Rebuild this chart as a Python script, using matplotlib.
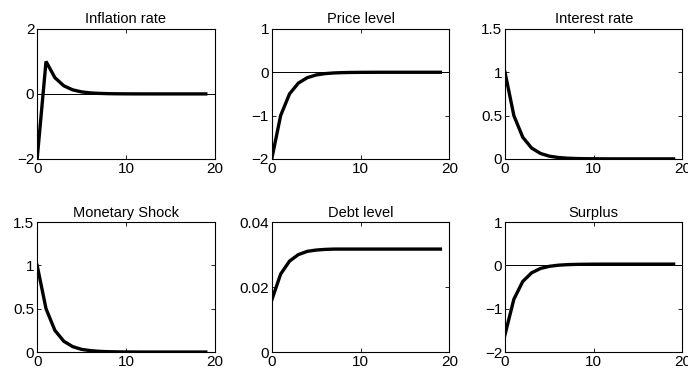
import matplotlib
matplotlib.use('Agg')
import matplotlib.pyplot as plt

plt.rcParams['font.family'] = ['Liberation Sans', 'DejaVu Sans']

periods = list(range(20))

inflation = [-2.0, 1.0, 0.5, 0.25, 0.125, 0.0625, 0.031, 0.016, 0.008, 0.004,
             0.002, 0.001, 0.0005, 0.0, 0.0, 0.0, 0.0, 0.0, 0.0, 0.0]
price = [-2.0, -1.0, -0.5, -0.25, -0.125, -0.0625, -0.031, -0.016, -0.008, -0.004,
         -0.002, -0.001, 0.0, 0.0, 0.0, 0.0, 0.0, 0.0, 0.0, 0.0]
interest = [1.0, 0.5, 0.25, 0.125, 0.0625, 0.031, 0.016, 0.008, 0.004, 0.002,
            0.001, 0.0005, 0.0, 0.0, 0.0, 0.0, 0.0, 0.0, 0.0, 0.0]
shock = [1.0, 0.5, 0.25, 0.125, 0.0625, 0.031, 0.016, 0.008, 0.004, 0.002,
         0.001, 0.0005, 0.0, 0.0, 0.0, 0.0, 0.0, 0.0, 0.0, 0.0]
debt = [0.016, 0.024, 0.028, 0.030, 0.031, 0.0314, 0.0316, 0.0317, 0.0317, 0.0317,
        0.0317, 0.0317, 0.0317, 0.0317, 0.0317, 0.0317, 0.0317, 0.0317, 0.0317, 0.0317]
surplus = [-1.6, -0.78, -0.37, -0.17, -0.07, -0.02, 0.005, 0.018, 0.024, 0.027,
           0.029, 0.03, 0.03, 0.03, 0.03, 0.03, 0.03, 0.03, 0.03, 0.03]

titles = ['Inflation rate', 'Price level', 'Interest rate',
          'Monetary Shock', 'Debt level', 'Surplus']
series = [inflation, price, interest, shock, debt, surplus]
ylims = [(-2, 2), (-2, 1), (0, 1.5), (0, 1.5), (0, 0.04), (-2, 1)]
yticks = [[-2, 0, 2], [-2, -1, 0, 1], [0, 0.5, 1, 1.5],
          [0, 0.5, 1, 1.5], [0, 0.02, 0.04], [-2, -1, 0, 1]]
yticklabels = [['\u22122', '0', '2'], ['\u22122', '\u22121', '0', '1'],
               ['0', '0.5', '1', '1.5'], ['0', '0.5', '1', '1.5'],
               ['0', '0.02', '0.04'], ['\u22122', '\u22121', '0', '1']]
zero_line = [True, True, False, False, False, True]

fig = plt.figure(figsize=(6.88, 3.81), dpi=100)

lefts = [0.054, 0.395, 0.734]
bottoms = [0.583, 0.076]
w, h = 0.258, 0.341

for i in range(6):
    r, c = divmod(i, 3)
    ax = fig.add_axes([lefts[c], bottoms[r], w, h])
    if zero_line[i]:
        ax.axhline(0, color='black', lw=0.7)
    ax.plot(periods, series[i], color='black', lw=2.4, solid_joinstyle='miter')
    ax.set_xlim(0, 20)
    ax.set_ylim(*ylims[i])
    ax.set_xticks([0, 10, 20])
    ax.set_yticks(yticks[i])
    ax.set_yticklabels(yticklabels[i])
    ax.set_title(titles[i], fontsize=10.5, pad=4)
    ax.tick_params(direction='in', length=3, width=0.6, labelsize=11,
                   top=True, right=True, pad=2)
    for s in ax.spines.values():
        s.set_linewidth(0.8)

plt.savefig('out.png', dpi=100)
